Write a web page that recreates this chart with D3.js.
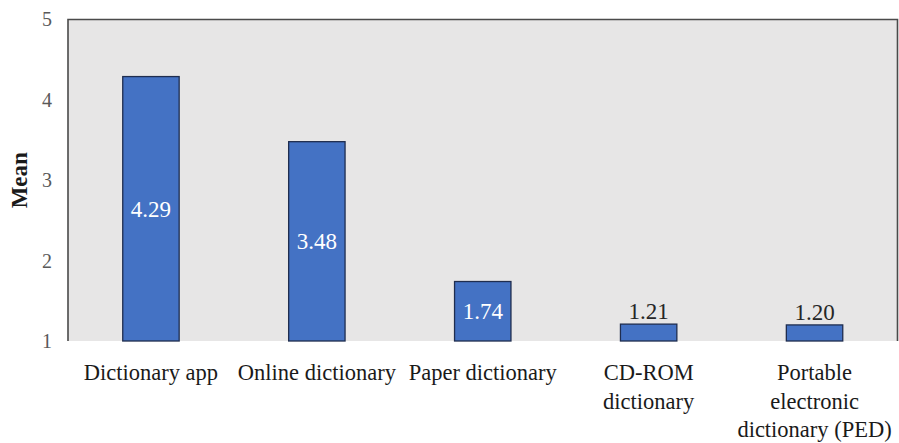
<!DOCTYPE html>
<html>
<head>
<meta charset="utf-8">
<script src="https://cdn.jsdelivr.net/npm/d3@7"></script>
<style>
  html, body { margin: 0; padding: 0; background: #ffffff; }
  svg { display: block; }
</style>
</head>
<body>
<svg id="chart" width="899" height="443"></svg>
<script>
// Mean usage rating per dictionary type
const categories = [
  ["Dictionary app"],
  ["Online dictionary"],
  ["Paper dictionary"],
  ["CD-ROM", "dictionary"],
  ["Portable", "electronic", "dictionary (PED)"]
];
const means = [4.29, 3.48, 1.74, 1.21, 1.20];
const yTicks = [1, 2, 3, 4, 5];
const yTitle = "Mean";

const width = 899, height = 443;
const margin = { top: 19.5, right: 1.5, bottom: 102, left: 68 };
const serif = "'Liberation Serif', 'Times New Roman', serif";

const svg = d3.select("#chart");
const innerW = width - margin.left - margin.right;
const innerH = height - margin.top - margin.bottom;
const g = svg.append("g").attr("transform", `translate(${margin.left},${margin.top})`);

const x = d3.scaleBand()
  .domain(d3.range(categories.length))
  .range([0, innerW])
  .paddingInner(0.66)
  .paddingOuter(0.33);

const y = d3.scaleLinear().domain([1, 5]).range([innerH, 0]);

// plot area background
g.append("rect")
  .attr("x", 0).attr("y", 0)
  .attr("width", innerW).attr("height", innerH)
  .attr("fill", "#e7e6e6");

// frame: left, top and right edges
g.append("path")
  .attr("d", `M0,${innerH}V0H${innerW}V${innerH}`)
  .attr("fill", "none")
  .attr("stroke", "#4a4a4a")
  .attr("stroke-width", 1.6);

// y axis labels
const yAxis = d3.axisLeft(y).tickValues(yTicks).tickFormat(d3.format("d")).tickSize(0).tickPadding(16);
const ya = g.append("g").call(yAxis);
ya.select(".domain").remove();
ya.selectAll("text")
  .attr("font-family", serif)
  .attr("font-size", 20)
  .attr("fill", "#595959");

// y axis title
svg.append("text")
  .attr("transform", `translate(27,${margin.top + innerH / 2}) rotate(-90)`)
  .attr("text-anchor", "middle")
  .attr("font-family", serif)
  .attr("font-weight", "bold")
  .attr("font-size", 23)
  .attr("fill", "#1a1a1a")
  .text(yTitle);

// bars
g.selectAll("rect.bar")
  .data(means)
  .join("rect")
  .attr("class", "bar")
  .attr("x", (d, i) => x(i))
  .attr("y", d => y(d))
  .attr("width", x.bandwidth())
  .attr("height", d => innerH - y(d))
  .attr("fill", "#4472c4")
  .attr("stroke", "#1f2d4f")
  .attr("stroke-width", 1.3);

// value labels: centred inside tall bars, above short ones
g.selectAll("text.value")
  .data(means)
  .join("text")
  .attr("class", "value")
  .attr("x", (d, i) => x(i) + x.bandwidth() / 2)
  .attr("y", d => {
    const h = innerH - y(d);
    return h > 40 ? y(d) + h / 2 : y(d) - 5;
  })
  .attr("dy", d => (innerH - y(d)) > 40 ? "0.35em" : "0")
  .attr("text-anchor", "middle")
  .attr("font-family", serif)
  .attr("font-size", 23)
  .attr("fill", d => (innerH - y(d)) > 40 ? "#ffffff" : "#262626")
  .text(d => d.toFixed(2));

// category labels (multi-line)
const cat = g.selectAll("text.cat")
  .data(categories)
  .join("text")
  .attr("class", "cat")
  .attr("x", (d, i) => x(i) + x.bandwidth() / 2)
  .attr("y", innerH + 39)
  .attr("text-anchor", "middle")
  .attr("font-family", serif)
  .attr("font-size", 22.5)
  .attr("fill", "#1a1a1a");

cat.selectAll("tspan")
  .data(d => d)
  .join("tspan")
  .attr("x", function () { return d3.select(this.parentNode).attr("x"); })
  .attr("dy", (d, i) => i === 0 ? 0 : 28.5)
  .text(d => d);
</script>
</body>
</html>
